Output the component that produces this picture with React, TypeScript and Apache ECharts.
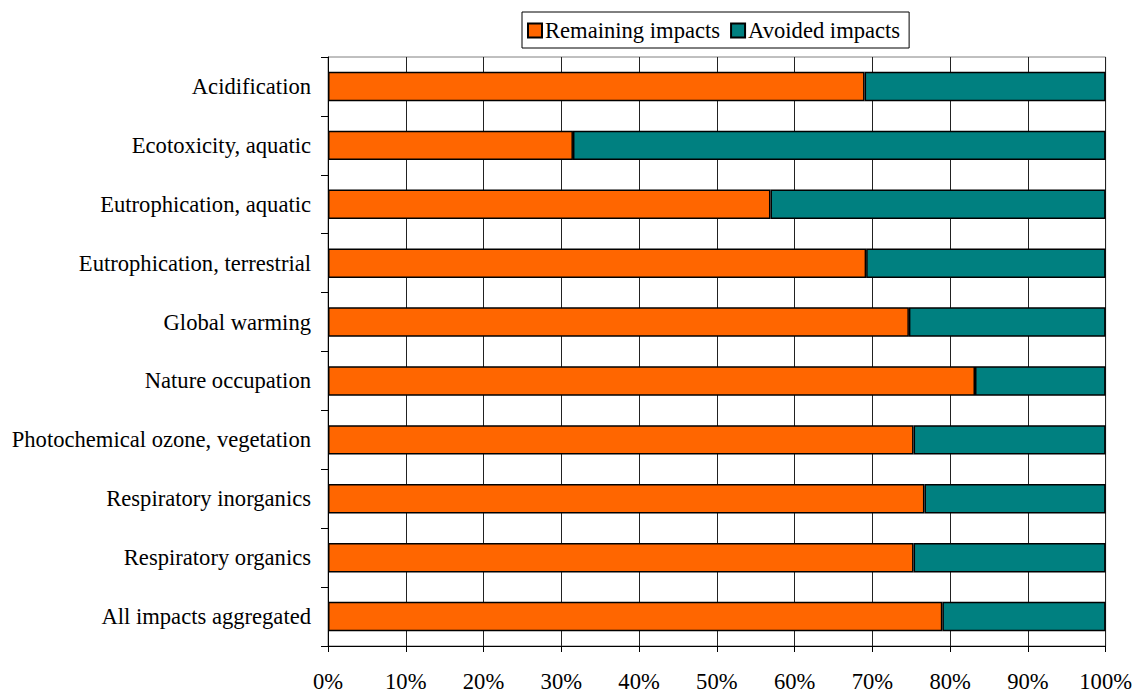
import React, { useEffect, useRef } from "react";
import * as echarts from "echarts";

const categories = [
  "Acidification",
  "Ecotoxicity, aquatic",
  "Eutrophication, aquatic",
  "Eutrophication, terrestrial",
  "Global warming",
  "Nature occupation",
  "Photochemical ozone, vegetation",
  "Respiratory inorganics",
  "Respiratory organics",
  "All impacts aggregated",
];

const remainingImpacts = [69.0, 31.5, 56.9, 69.2, 74.7, 83.2, 75.3, 76.7, 75.3, 79.0];
const avoidedImpacts = [31.0, 68.5, 43.1, 30.8, 25.3, 16.8, 24.7, 23.3, 24.7, 21.0];

const seriesNames = ["Remaining impacts", "Avoided impacts"];
const FONT = "'Liberation Serif', 'Times New Roman', serif";
const FONT_SIZE = 22.6;

export default function App() {
  const ref = useRef<HTMLDivElement>(null);

  useEffect(() => {
    if (!ref.current) return;
    const chart = echarts.init(ref.current, null, { renderer: "svg" });
    const barStyle = (color: string) => ({
      color,
      borderColor: "#000",
      borderWidth: 1.5,
    });
    chart.setOption({
      animation: false,
      backgroundColor: "#fff",
      textStyle: { fontFamily: FONT, color: "#000" },
      legend: {
        top: 12,
        left: 522,
        itemWidth: 14,
        itemHeight: 14,
        itemGap: 10,
        padding: [7, 9, 6, 5],
        borderColor: "#000",
        borderWidth: 1,
        icon: "rect",
        textStyle: { fontFamily: FONT, fontSize: FONT_SIZE, color: "#000", padding: [0, 0, 0, -2] },
        data: seriesNames,
      },
      grid: {
        left: 328,
        right: 28,
        top: 57,
        bottom: 43,
        show: true,
        borderColor: "#808080",
        borderWidth: 1,
        containLabel: false,
      },
      xAxis: {
        type: "value",
        min: 0,
        max: 100,
        interval: 10,
        axisLine: { show: true, lineStyle: { color: "#000", width: 1 } },
        axisTick: { show: true, length: 6, lineStyle: { color: "#000" } },
        splitLine: { show: true, lineStyle: { color: "#222", width: 1 } },
        axisLabel: {
          formatter: "{value}%",
          fontFamily: FONT,
          fontSize: FONT_SIZE,
          color: "#000",
          margin: 24,
        },
      },
      yAxis: {
        type: "category",
        inverse: true,
        data: categories,
        axisLine: { show: true, lineStyle: { color: "#000", width: 1 } },
        axisTick: { show: true, length: 7, lineStyle: { color: "#000" } },
        axisLabel: { fontFamily: FONT, fontSize: FONT_SIZE, color: "#000", margin: 17 },
      },
      series: [
        {
          name: seriesNames[0],
          type: "bar",
          stack: "total",
          barWidth: "50%",
          itemStyle: barStyle("#FF6600"),
          data: remainingImpacts,
        },
        {
          name: seriesNames[1],
          type: "bar",
          stack: "total",
          barWidth: "50%",
          itemStyle: barStyle("#008080"),
          data: avoidedImpacts,
        },
      ],
    });
    return () => chart.dispose();
  }, []);

  return <div ref={ref} style={{ width: 1135, height: 693, position: "absolute", left: 0, top: 0 }} />;
}
